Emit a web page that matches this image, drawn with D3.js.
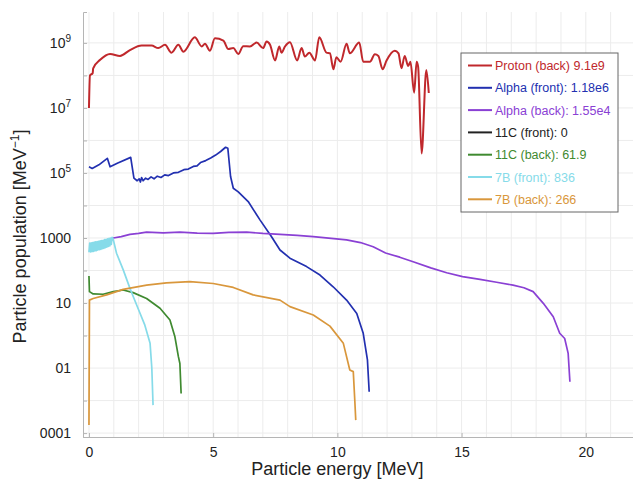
<!DOCTYPE html>
<html>
<head>
<meta charset="utf-8">
<script src="https://cdn.jsdelivr.net/npm/d3@7"></script>
<style>
  body { margin: 0; background: #fff; }
  svg { font-family: "Liberation Sans", Arial, sans-serif; }
</style>
</head>
<body>
<svg id="chart" width="633" height="487"></svg>
<script>
// Particle energy spectra, log y axis. Each point is [energy MeV, log10(population)]

const protonBack = [[0.0,7.0],[0.04,8.0],[0.15,8.07],[0.17,8.22],[0.45,8.48],[0.85,8.66],[1.25,8.6],[1.65,8.78],[2.12,8.92],[2.52,8.92],[2.79,8.84],[3.06,8.94],[3.32,8.7],[3.6,8.94],[3.8,8.73],[4.26,9.17],[4.54,8.89],[4.67,8.97],[4.87,8.76],[5.07,9.14],[5.41,9.07],[5.61,8.81],[5.81,8.84],[6.01,8.66],[6.21,8.9],[6.48,8.89],[6.75,9.01],[7.01,8.84],[7.15,9.04],[7.29,8.94],[7.49,8.46],[7.66,8.89],[7.75,8.7],[7.89,8.89],[8.09,9.02],[8.38,8.46],[8.56,8.84],[8.69,8.58],[8.87,8.7],[9.1,8.46],[9.27,9.17],[9.56,8.7],[9.7,8.68],[9.84,8.19],[9.96,8.56],[10.13,8.42],[10.37,8.97],[10.5,8.68],[10.88,9.01],[11.04,8.42],[11.31,8.42],[11.51,8.65],[11.65,8.6],[11.82,8.19],[11.98,8.46],[12.31,8.76],[12.46,8.68],[12.58,8.22],[12.71,8.6],[12.85,8.29],[12.94,8.42],[13.09,7.47],[13.19,8.42],[13.25,8.27],[13.39,5.6],[13.58,8.17],[13.68,7.46]];

const alphaFront = [[0.0,5.19],[0.13,5.14],[0.4,5.25],[0.74,5.45],[0.85,5.19],[1.14,5.3],[1.68,5.48],[1.81,4.84],[1.94,4.76],[2.02,4.82],[2.07,4.72],[2.12,4.86],[2.18,4.76],[2.28,4.84],[2.38,4.8],[2.5,4.88],[2.62,4.82],[2.75,4.9],[2.9,4.86],[3.05,4.94],[3.2,4.92],[3.4,5.0],[3.6,5.02],[3.82,5.1],[4.0,5.12],[4.2,5.2],[4.35,5.22],[4.49,5.32],[4.7,5.38],[4.9,5.46],[5.1,5.55],[5.3,5.66],[5.5,5.79],[5.59,5.76],[5.7,4.89],[5.81,4.53],[6.01,4.42],[6.41,4.12],[6.89,3.55],[7.35,3.04],[7.69,2.63],[8.09,2.38],[8.76,2.12],[9.3,1.86],[9.83,1.5],[10.37,1.09],[10.78,0.68],[11.04,0.07],[11.21,-0.75],[11.28,-1.73]];

const alphaBack = [[0.0,2.6],[0.34,2.66],[0.7,2.8],[0.91,2.94],[0.98,3.0],[1.3,3.04],[1.65,3.11],[2.0,3.14],[2.32,3.18],[2.99,3.16],[3.66,3.18],[4.36,3.15],[5.0,3.14],[5.63,3.17],[6.35,3.18],[7.0,3.14],[7.69,3.11],[8.38,3.08],[9.03,3.04],[9.75,2.99],[10.37,2.94],[10.93,2.86],[11.44,2.73],[11.94,2.54],[12.51,2.41],[13.05,2.27],[13.76,2.08],[14.4,1.93],[15.04,1.81],[15.74,1.73],[16.41,1.64],[17.07,1.55],[17.51,1.47],[17.88,1.35],[18.29,0.99],[18.69,0.58],[18.95,0.07],[19.15,-0.09],[19.29,-0.55],[19.36,-1.42]];

const c11Front = [];

const c11Back = [[0.0,1.83],[0.02,1.35],[0.17,1.28],[0.57,1.27],[0.98,1.35],[1.38,1.4],[1.78,1.32],[2.32,1.14],[2.86,0.84],[3.26,0.48],[3.46,-0.04],[3.6,-0.65],[3.66,-0.86],[3.71,-1.78]];

const b7Front = [[0.0,2.56],[0.03,2.84],[0.06,2.57],[0.09,2.85],[0.12,2.58],[0.15,2.86],[0.18,2.59],[0.21,2.87],[0.24,2.6],[0.27,2.88],[0.3,2.61],[0.33,2.89],[0.36,2.63],[0.39,2.9],[0.42,2.64],[0.45,2.91],[0.48,2.65],[0.51,2.92],[0.54,2.67],[0.57,2.93],[0.6,2.68],[0.63,2.95],[0.66,2.7],[0.69,2.96],[0.72,2.72],[0.75,2.97],[0.78,2.74],[0.81,2.99],[0.84,2.76],[0.87,3.0],[0.9,2.8],[0.93,3.02],[0.97,2.98],[1.11,2.53],[1.38,2.02],[1.65,1.45],[1.92,0.94],[2.25,0.32],[2.46,-0.24],[2.53,-1.0],[2.58,-2.14]];

const b7Back = [[0.0,-2.75],[0.02,1.09],[0.17,1.14],[0.71,1.25],[1.38,1.42],[2.32,1.55],[3.12,1.62],[4.06,1.66],[5.0,1.6],[5.81,1.48],[6.61,1.25],[7.69,1.09],[8.09,0.89],[9.03,0.63],[9.7,0.29],[10.24,-0.24],[10.5,-1.06],[10.64,-1.11],[10.7,-1.98],[10.74,-2.6]];

const seriesNames = ["Proton (back) 9.1e9", "Alpha (front): 1.18e6", "Alpha (back): 1.55e4",
  "11C (front): 0", "11C (back): 61.9", "7B (front): 836", "7B (back): 266"];
const seriesColors = ["#c0282c", "#2230b0", "#8a40d4", "#222222", "#3f8a30", "#86dbe9", "#d9973c"];
const seriesData = [protonBack, alphaFront, alphaBack, c11Front, c11Back, b7Front, b7Back];

const xTicks = [0, 5, 10, 15, 20];
const yTickExps = [9, 7, 5, 3, 1, -1, -3];
const yTickLabels = [["10", "9"], ["10", "7"], ["10", "5"], ["1000"], ["10"], ["01"], ["0001"]];

const mLeft = 83, mRight = 633, mTop = 12, mBottom = 437;

const svg = d3.select("#chart");

const x = d3.scaleLinear().domain([-0.24, 21.9]).range([mLeft, mRight]);
const y = d3.scaleLog().domain([Math.pow(10, -3.12), Math.pow(10, 9.95)]).range([mBottom, mTop]);

// Grid
const grid = svg.append("g").attr("class", "grid");
grid.selectAll("line.vx")
    .data(d3.range(0, 22))
    .join("line")
    .attr("x1", d => x(d)).attr("x2", d => x(d))
    .attr("y1", mTop).attr("y2", mBottom)
    .attr("stroke", "#ececec").attr("stroke-width", 1);
grid.selectAll("line.hy")
    .data(d3.range(-3, 10))
    .join("line")
    .attr("x1", mLeft).attr("x2", mRight)
    .attr("y1", d => y(Math.pow(10, d))).attr("y2", d => y(Math.pow(10, d)))
    .attr("stroke", "#ececec").attr("stroke-width", 1);

// Axes
const xAxis = d3.axisBottom(x).tickValues(xTicks).tickSize(-4).tickPadding(10).tickFormat(d3.format("d"));
const gx = svg.append("g").attr("transform", `translate(0,${mBottom})`).call(xAxis);
gx.select(".domain").attr("stroke", "#b5b5b5");
gx.selectAll(".tick line").attr("stroke", "#b5b5b5");
gx.selectAll("text").attr("font-size", "14px").attr("fill", "#222").attr("font-family", "Liberation Sans, Arial, sans-serif");

const yAxis = d3.axisLeft(y).tickValues(d3.range(-3, 10).map(e => Math.pow(10, e))).tickSize(-4).tickFormat("");
const gy = svg.append("g").attr("transform", `translate(${mLeft},0)`).call(yAxis);
gy.select(".domain").attr("stroke", "#b5b5b5");
gy.selectAll(".tick line").attr("stroke", "#b5b5b5");

yTickExps.forEach((e, i) => {
    const t = svg.append("text")
        .attr("x", 71)
        .attr("y", y(Math.pow(10, e)) + 5)
        .attr("text-anchor", "end")
        .attr("font-size", "14px")
        .attr("fill", "#222");
    const lab = yTickLabels[i];
    if (lab.length === 2) {
        t.append("tspan").text(lab[0]);
        t.append("tspan").attr("dy", -6).attr("font-size", "10px").text(lab[1]);
    } else {
        t.text(lab[0]);
    }
});

// Axis titles
svg.append("text")
    .attr("x", x(10))
    .attr("y", 475)
    .attr("text-anchor", "middle")
    .attr("font-size", "18px")
    .attr("fill", "#222")
    .text("Particle energy [MeV]");

const yt = svg.append("text")
    .attr("transform", `translate(26,${(mTop + mBottom) / 2 + 12}) rotate(-90)`)
    .attr("text-anchor", "middle")
    .attr("font-size", "18px")
    .attr("fill", "#222");
yt.append("tspan").text("Particle population [MeV");
yt.append("tspan").attr("dy", -7).attr("font-size", "12px").text("\u22121");
yt.append("tspan").attr("dy", 7).text("]");

// Curves (proton drawn smoothed, the rest straight segments)
const line = d3.line()
    .x(d => x(d[0]))
    .y(d => y(Math.pow(10, d[1])));
const smoothLine = d3.line()
    .x(d => x(d[0]))
    .y(d => y(Math.pow(10, d[1])))
    .curve(d3.curveMonotoneX);

const curves = svg.append("g");
seriesData.forEach((data, i) => {
    if (!data.length) return;
    curves.append("path")
        .datum(data)
        .attr("d", i === 0 ? smoothLine : line)
        .attr("fill", "none")
        .attr("stroke", seriesColors[i])
        .attr("stroke-width", i === 0 ? 2 : 1.7)
        .attr("stroke-linejoin", "round");
});

// Legend
const lg = svg.append("g").attr("transform", "translate(461,53)");
lg.append("rect")
    .attr("width", 157).attr("height", 159)
    .attr("fill", "#fff")
    .attr("stroke", "#666").attr("stroke-width", 1);
seriesNames.forEach((name, i) => {
    const yy = 12.5 + i * 22.3;
    lg.append("line")
        .attr("x1", 7).attr("x2", 31)
        .attr("y1", yy).attr("y2", yy)
        .attr("stroke", seriesColors[i]).attr("stroke-width", 2);
    lg.append("text")
        .attr("x", 34).attr("y", yy + 4.5)
        .attr("font-size", "12.5px")
        .attr("fill", seriesColors[i])
        .text(name);
});
</script>
</body>
</html>
